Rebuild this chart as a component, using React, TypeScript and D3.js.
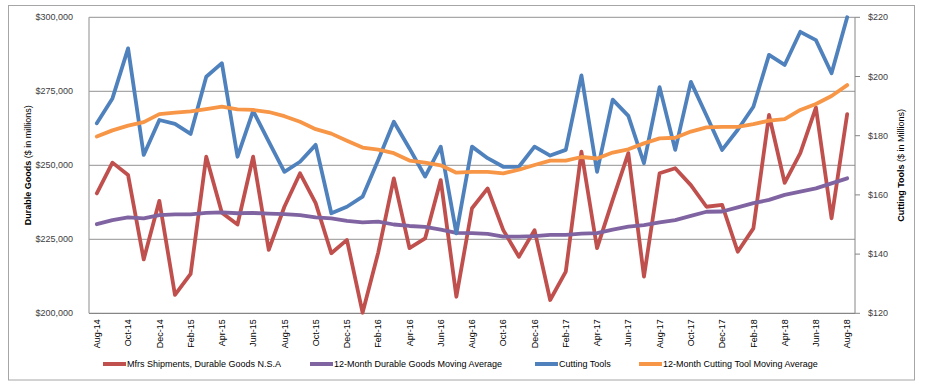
import React from 'react';
import * as d3 from 'd3';

const months = [
  'Aug-14','Sep-14','Oct-14','Nov-14','Dec-14','Jan-15','Feb-15','Mar-15','Apr-15','May-15','Jun-15','Jul-15',
  'Aug-15','Sep-15','Oct-15','Nov-15','Dec-15','Jan-16','Feb-16','Mar-16','Apr-16','May-16','Jun-16','Jul-16',
  'Aug-16','Sep-16','Oct-16','Nov-16','Dec-16','Jan-17','Feb-17','Mar-17','Apr-17','May-17','Jun-17','Jul-17',
  'Aug-17','Sep-17','Oct-17','Nov-17','Dec-17','Jan-18','Feb-18','Mar-18','Apr-18','May-18','Jun-18','Jul-18',
  'Aug-18'
];

const durableGoods = [
  240500, 250900, 246700, 218200, 238000, 206200, 213300, 252900, 234000, 230000, 252900, 221400,
  236000, 247300, 237200, 220300, 224800, 200200, 220500, 245600, 222000, 225300, 245000, 205600,
  235500, 242200, 228100, 219100, 228100, 204500, 214100, 254600, 222000, 238300, 254100, 212400,
  247300, 249000, 243300, 236000, 236600, 220800, 228700, 267000, 244100, 254100, 269500, 232100,
  267300
];

const durableMA = [
  230100, 231500, 232400, 232100, 233200, 233400, 233400, 233900, 234100, 233800, 233900, 233700,
  233500, 233200, 232400, 232100, 231200, 230700, 231000, 230000, 229500, 229200, 228300, 227200,
  227100, 226800, 225900, 225900, 226100, 226500, 226500, 226900, 227100, 228300, 229300, 229800,
  230700, 231500, 232900, 234300, 234400, 235800, 237200, 238300, 240000, 241100, 242200, 243900,
  245600
];

const cuttingTools = [
  184.2, 192.6, 209.5, 173.5, 185.3, 184.0, 180.6, 199.9, 204.5, 172.9, 188.4, 178.0,
  167.8, 171.2, 176.9, 153.8, 156.0, 159.4, 171.8, 184.7, 175.7, 166.2, 176.3, 147.0,
  176.3, 172.4, 169.5, 169.5, 176.3, 173.3, 175.2, 200.4, 167.8, 192.2, 186.7, 170.7,
  196.4, 175.2, 198.2, 186.8, 175.2, 182.0, 189.8, 207.3, 203.9, 215.1, 212.3, 201.1,
  220.0
];

const cuttingMA = [
  179.7, 181.8, 183.4, 184.6, 187.3, 187.8, 188.2, 189.0, 189.8, 188.9, 188.7, 188.0,
  186.6, 184.7, 182.2, 180.7, 178.3, 176.0, 175.3, 174.1, 171.6, 170.9, 170.0, 167.5,
  167.8, 167.8, 167.3, 168.5, 170.1, 171.6, 171.6, 172.8, 172.3, 174.3, 175.4, 177.4,
  179.1, 179.3, 181.4, 182.8, 183.0, 183.0, 183.9, 185.1, 185.6, 188.7, 190.7, 193.4,
  197.1
];

const leftTicks = [200000, 225000, 250000, 275000, 300000];
const rightTicks = [120, 140, 160, 180, 200, 220];

const seriesNames = [
  'Mfrs Shipments, Durable Goods N.S.A',
  '12-Month Durable Goods Moving Average',
  'Cutting Tools',
  '12-Month Cutting Tool Moving Average'
];
const seriesColors = ['#C0504D', '#8064A2', '#4F81BD', '#F79646'];

const W = 925, H = 387;
const plot = { left: 89, right: 855, top: 17.3, bottom: 313.3 };
const FONT = '"Liberation Sans", Arial, sans-serif';

export default function App() {
  const x = d3.scaleBand<string>().domain(months).range([plot.left, plot.right]).padding(0);
  const cx = (m: string) => (x(m) as number) + x.bandwidth() / 2;
  const yL = d3.scaleLinear().domain([200000, 300000]).range([plot.bottom, plot.top]);
  const yR = d3.scaleLinear().domain([120, 220]).range([plot.bottom, plot.top]);
  const fmtL = d3.format('$,.0f');
  const fmtR = d3.format('$,.0f');

  const lineL = d3.line<number>().x((_, i) => cx(months[i])).y(d => yL(d));
  const lineR = d3.line<number>().x((_, i) => cx(months[i])).y(d => yR(d));

  const paths = [
    lineL(durableGoods),
    lineL(durableMA),
    lineR(cuttingTools),
    lineR(cuttingMA)
  ];

  const legendX = [103, 310, 535, 639];
  const legendY = 364;

  return (
    <svg width={W} height={H} style={{ position: 'absolute', left: 0, top: 0, background: '#fff' }}
      fontFamily={FONT}>
      <rect x={0} y={0} width={W} height={H} fill="#fff" />
      <rect x={8.5} y={5.5} width={906} height={374.5} fill="none" stroke="#A6A6A6" strokeWidth={1} />

      {leftTicks.map(t => (
        <line key={'g' + t} x1={plot.left} x2={plot.right} y1={yL(t)} y2={yL(t)}
          stroke={t === 200000 ? '#868686' : '#A8A8A8'} strokeWidth={1.2} />
      ))}
      <line x1={plot.left} x2={plot.left} y1={plot.top} y2={plot.bottom} stroke="#A0A0A0" strokeWidth={1.2} />
      <line x1={plot.right} x2={plot.right} y1={plot.top} y2={plot.bottom} stroke="#868686" strokeWidth={1} />
      {rightTicks.map(t => (
        <line key={'rt' + t} x1={plot.right} x2={plot.right + 5} y1={yR(t)} y2={yR(t)} stroke="#868686" strokeWidth={1} />
      ))}

      {leftTicks.map(t => (
        <text key={'lt' + t} x={73} y={yL(t)} dy="0.35em" textAnchor="end" fontSize={9} fill="#404040">{fmtL(t)}</text>
      ))}
      {rightTicks.map(t => (
        <text key={'rl' + t} x={868} y={yR(t)} dy="0.35em" textAnchor="start" fontSize={9} fill="#404040">{fmtR(t)}</text>
      ))}

      {months.map((m, i) => i % 2 === 0 ? (
        <text key={m} transform={`translate(${cx(m)},${plot.bottom + 6}) rotate(-90)`} dy="0.35em"
          textAnchor="end" fontSize={9} fill="#000">{m}</text>
      ) : null)}

      <text transform={`translate(28,${(plot.top + plot.bottom) / 2}) rotate(-90)`} textAnchor="middle"
        dy="0.35em" fontSize={9} fill="#000">
        <tspan fontWeight="bold">Durable Goods</tspan><tspan> ($ in millions)</tspan>
      </text>
      <text transform={`translate(901,${(plot.top + plot.bottom) / 2}) rotate(-90)`} textAnchor="middle"
        dy="0.35em" fontSize={9} fill="#000">
        <tspan fontWeight="bold">Cutting Tools</tspan><tspan> ($ in Millions)</tspan>
      </text>

      {paths.map((p, i) => (
        <path key={'p' + i} d={p || ''} fill="none" stroke={seriesColors[i]} strokeWidth={3.8}
          strokeLinejoin="round" strokeLinecap="round" />
      ))}

      {seriesNames.map((n, i) => (
        <g key={'lg' + i}>
          <line x1={legendX[i]} x2={legendX[i] + 23} y1={legendY} y2={legendY} stroke={seriesColors[i]} strokeWidth={4} />
          <text x={legendX[i] + 24} y={legendY} dy="0.35em" fontSize={9} fill="#000">{n}</text>
        </g>
      ))}
    </svg>
  );
}
